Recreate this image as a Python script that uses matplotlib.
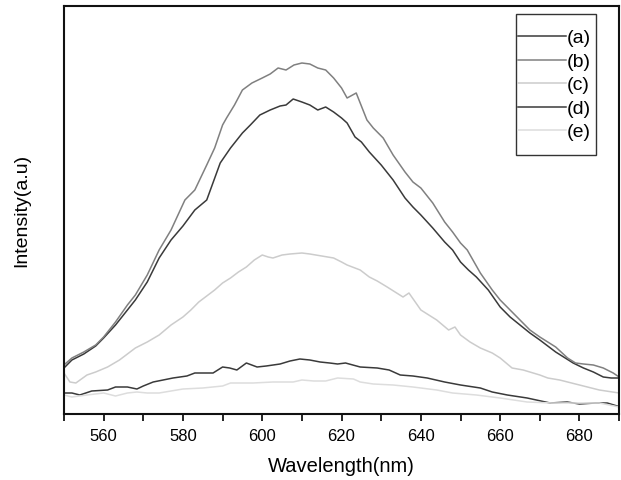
import numpy as np
from matplotlib import pyplot as plt
from matplotlib.ticker import MultipleLocator
from matplotlib.patches import Rectangle

plt.rcParams['font.family'] = ['Liberation Sans', 'DejaVu Sans']

# emission spectra, intensity in arbitrary units
wl_a = [550, 552, 555, 558, 560, 563, 566, 568, 571, 574, 577, 580, 583, 586, 589.4, 592, 595, 597,
        599.4, 602, 604.5, 606, 607.8, 610, 612, 614, 616, 618, 620, 621.4, 623.4, 625, 627, 630, 633,
        636, 638, 640, 643, 646, 648, 650, 652, 654, 657, 660, 662.5, 665, 667.5, 670, 674, 678.4, 681,
        683.5, 686, 688, 690]
int_a = [46, 54, 60, 68, 76, 89, 104, 114, 132, 156, 174, 188, 204, 214, 251, 266, 281, 289,
         299, 304, 308, 309, 315, 312, 309, 304, 307, 302, 296, 291, 277, 272, 262, 249, 234,
         216, 207, 199, 186, 172, 164, 152, 144, 137, 124, 107, 97, 89, 81, 74, 62, 51, 46,
         42, 37, 36, 36]

wl_b = [550, 552, 555, 558, 560, 563, 566, 568, 571, 574, 577, 580.5, 583, 586, 588, 590, 591, 593,
        595, 597.4, 600, 602, 604, 606, 608, 610, 612, 614, 616, 618, 620, 621.4, 623.7, 626.4, 628,
        630.5, 633, 636, 638, 640, 643, 646, 648, 650, 651.7, 655, 658, 660, 662.5, 665, 667.5, 670,
        674, 677, 679, 681, 683.5, 686, 688.5, 690]
int_b = [49, 56, 62, 69, 77, 92, 109, 119, 139, 164, 184, 214, 224, 249, 266, 289, 296, 309,
         324, 331, 336, 340, 346, 344, 349, 351, 350, 346, 344, 336, 326, 316, 321, 294, 286,
         276, 259, 242, 232, 226, 211, 192, 182, 171, 164, 141, 124, 114, 104, 94, 84, 77,
         67, 56, 51, 50, 49, 46, 41, 37]

wl_c = [550, 551.5, 553, 555.8, 558, 561, 564, 568, 571, 574, 577, 580, 582, 584, 586, 588, 590, 592,
        594, 596, 598, 600, 601.5, 602.7, 605, 607, 610, 612, 615, 618, 620, 621.4, 624.7, 627, 629,
        631.5, 633.5, 635.5, 637, 640, 642, 644, 647, 648.6, 650, 652.4, 655, 658, 660, 663, 665.8,
        670, 672, 675, 680, 685, 690]
int_c = [41, 32, 31, 39, 42, 47, 54, 66, 72, 79, 89, 97, 104, 112, 118, 124, 131, 136,
         142, 147, 154, 159, 157, 156, 159, 160, 161, 160, 158, 156, 152, 149, 144, 137, 133,
         127, 122, 117, 121, 104, 99, 94, 84, 87, 79, 72, 66, 61, 56, 46, 44,
         39, 36, 34, 29, 24, 21]

wl_d = [550, 552, 554, 557, 561, 563, 566, 568.4, 570, 572.5, 575, 577.5, 581, 583, 587.6, 590, 591.8,
        593.6, 596, 598.7, 601, 604.5, 607, 609.5, 612, 614.6, 617, 619, 621, 624.7, 629, 632, 634.8,
        638, 641.6, 646, 650, 655, 658, 661.8, 666.8, 672.6, 676.9, 680, 684, 687, 689.5]
int_d = [21, 21, 19, 23, 24, 27, 27, 25, 28, 32, 34, 36, 38, 41, 41, 47, 46,
         44, 51, 47, 48, 50, 53, 55, 54, 52, 51, 50, 51, 47, 46, 44, 39,
         38, 36, 32, 29, 26, 22, 19, 16, 11, 12, 10, 11, 11, 8]

wl_e = [550, 552, 555.8, 560, 563, 566, 568.4, 571, 574, 577, 580, 585, 590, 592, 597.7, 602.7, 605,
        607.8, 610, 613, 616, 619, 623, 624.7, 628, 633, 638, 644, 648, 654, 660, 666.8, 673, 680,
        685, 690]
int_e = [19, 17, 19, 21, 18, 21, 22, 21, 21, 23, 25, 26, 28, 31, 31, 32, 32,
         32, 34, 33, 33, 36, 35, 32, 30, 29, 27, 24, 21, 19, 16, 12, 11, 11,
         11, 7]

labels = ['(a)', '(b)', '(c)', '(d)', '(e)']
xticks = [560, 580, 600, 620, 640, 660, 680]

colors = ['#3a3a3a', '#808080', '#cccccc', '#3a3a3a', '#dddddd']
data = [(wl_a, int_a), (wl_b, int_b), (wl_c, int_c), (wl_d, int_d), (wl_e, int_e)]

fig = plt.figure(figsize=(6.21, 4.8), dpi=100)
ax = fig.add_axes([0.103, 0.1375, 0.894, 0.85])

for (wl, inten), c, lab in zip(data, colors, labels):
    ax.plot(wl, inten, color=c, lw=1.1, label=lab)

ax.set_xlim(550, 690)
ax.set_ylim(0, 408)
ax.set_xticks(xticks)
ax.xaxis.set_minor_locator(MultipleLocator(10))
ax.set_yticks([])
ax.tick_params(axis='x', which='both', direction='out', length=5, width=1.2, labelsize=12, pad=6)
for sp in ax.spines.values():
    sp.set_linewidth(1.5)
    sp.set_color('#111111')

ax.set_xlabel('Wavelength(nm)', fontsize=14.5, labelpad=9)
ax.set_ylabel('Intensity(a.u)', fontsize=14, labelpad=24)

# legend box is taller than its content in the original, so frame drawn separately
ax.add_patch(Rectangle((0.8144, 0.635), 0.1442, 0.345, transform=ax.transAxes, fill=False,
                       edgecolor='#333333', lw=1.0, zorder=5))
leg = ax.legend(loc='upper left', bbox_to_anchor=(0.818, 0.942), fontsize=14, frameon=False,
                handlelength=2.45, handletextpad=0.05, labelspacing=0.3, borderpad=0,
                borderaxespad=0)

fig.savefig('out.png', dpi=100)
